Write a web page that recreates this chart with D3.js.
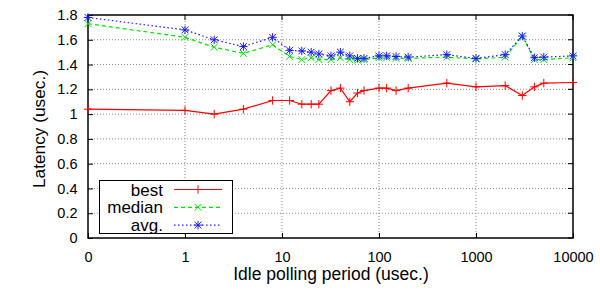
<!DOCTYPE html>
<html>
<head>
<meta charset="utf-8">
<script src="https://cdn.jsdelivr.net/npm/d3@7"></script>
<style>
  body { margin: 0; background: #fff; }
  svg { font-family: "Liberation Sans", Arial, sans-serif; }
</style>
</head>
<body>
<svg id="canvas" width="600" height="295"></svg>
<script>
// data (x = 0 is drawn at 0.1 on the log axis)
let periods = [0, 1, 2, 4, 8, 12, 16, 20, 24, 32, 40, 50, 60, 70, 100, 120, 150, 200, 500, 1000, 2000, 3000, 4000, 5000, 10000];
let best = [1.04, 1.03, 1.00, 1.04, 1.11, 1.11, 1.08, 1.08, 1.08, 1.19, 1.21, 1.10, 1.17, 1.19, 1.21, 1.21, 1.19, 1.21, 1.25, 1.22, 1.23, 1.15, 1.22, 1.25, 1.255];
let median = [1.73, 1.62, 1.54, 1.49, 1.56, 1.465, 1.44, 1.455, 1.44, 1.44, 1.455, 1.44, 1.435, 1.44, 1.455, 1.455, 1.45, 1.45, 1.46, 1.445, 1.46, 1.63, 1.44, 1.44, 1.455];
let avg = [1.78, 1.68, 1.60, 1.545, 1.62, 1.515, 1.51, 1.50, 1.485, 1.47, 1.50, 1.47, 1.45, 1.45, 1.47, 1.47, 1.465, 1.46, 1.48, 1.45, 1.48, 1.63, 1.455, 1.46, 1.47];

let xTicks = [0.1, 1, 10, 100, 1000, 10000];
let xTickLabels = ["0", "1", "10", "100", "1000", "10000"];
let yTicks = [0, 0.2, 0.4, 0.6, 0.8, 1, 1.2, 1.4, 1.6, 1.8];

let series = [
  { name: "best", values: best, color: "#ff0000", dash: null, marker: "plus" },
  { name: "median", values: median, color: "#00e000", dash: "4,3", marker: "cross" },
  { name: "avg.", values: avg, color: "#1a1aff", dash: "1.5,2.5", marker: "star" }
];

let plotLeft = 88, plotRight = 573, plotTop = 15, plotBottom = 238;

let canvas = d3.select("#canvas");

let xScale = d3.scaleLog().domain([0.1, 10000]).range([plotLeft, plotRight]);
let yScale = d3.scaleLinear().domain([0, 1.8]).range([plotBottom, plotTop]);
let xv = (p) => xScale(p === 0 ? 0.1 : p);

// grid
canvas.append("g")
  .selectAll("line")
  .data(yTicks.filter((t) => t > 0 && t < 1.8))
  .enter()
  .append("line")
  .attr("x1", plotLeft).attr("x2", plotRight)
  .attr("y1", (d) => yScale(d)).attr("y2", (d) => yScale(d))
  .attr("stroke", "#888").attr("stroke-width", 1)
  .attr("stroke-dasharray", "1,2");

canvas.append("g")
  .selectAll("line")
  .data(xTicks.filter((t) => t > 0.1 && t < 10000))
  .enter()
  .append("line")
  .attr("x1", (d) => xScale(d)).attr("x2", (d) => xScale(d))
  .attr("y1", plotTop).attr("y2", plotBottom)
  .attr("stroke", "#888").attr("stroke-width", 1)
  .attr("stroke-dasharray", "1,2");

// axes with inward ticks
let xAxis = d3.axisBottom(xScale).tickValues(xTicks)
  .tickFormat((d, i) => xTickLabels[i]).tickSizeInner(-5).tickSizeOuter(0).tickPadding(14);
let gx = canvas.append("g").attr("transform", `translate(0,${plotBottom})`).call(xAxis);

let yAxis = d3.axisLeft(yScale).tickValues(yTicks)
  .tickFormat(d3.format("~g")).tickSizeInner(-5).tickSizeOuter(0).tickPadding(14);
let gy = canvas.append("g").attr("transform", `translate(${plotLeft},0)`).call(yAxis);

[gx, gy].forEach((g) => {
  g.select(".domain").remove();
  g.selectAll("text").attr("font-size", 14.5).attr("fill", "#000")
    .style("font-family", "'Liberation Sans', Arial, sans-serif");
  g.selectAll("line").attr("stroke", "#000");
});
gy.selectAll("text").attr("x", -10.5);
gx.selectAll("text").attr("y", 13.5);

// ticks mirrored on top and right
canvas.append("g").selectAll("line").data(xTicks).enter().append("line")
  .attr("x1", (d) => xScale(d)).attr("x2", (d) => xScale(d))
  .attr("y1", plotTop).attr("y2", plotTop + 5).attr("stroke", "#000");
canvas.append("g").selectAll("line").data(yTicks).enter().append("line")
  .attr("x1", plotRight - 5).attr("x2", plotRight)
  .attr("y1", (d) => yScale(d)).attr("y2", (d) => yScale(d)).attr("stroke", "#000");

// border
canvas.append("rect")
  .attr("x", plotLeft).attr("y", plotTop)
  .attr("width", plotRight - plotLeft).attr("height", plotBottom - plotTop)
  .attr("fill", "none").attr("stroke", "#000").attr("stroke-width", 1.5);

// markers
let drawMarker = (g, kind, x, y, color) => {
  let s = 4.2;
  if (kind === "plus" || kind === "star") {
    g.append("line").attr("x1", x - s).attr("x2", x + s).attr("y1", y).attr("y2", y).attr("stroke", color);
    g.append("line").attr("x1", x).attr("x2", x).attr("y1", y - s).attr("y2", y + s).attr("stroke", color);
  }
  if (kind === "cross" || kind === "star") {
    let c = 3.4;
    g.append("line").attr("x1", x - c).attr("x2", x + c).attr("y1", y - c).attr("y2", y + c).attr("stroke", color);
    g.append("line").attr("x1", x - c).attr("x2", x + c).attr("y1", y + c).attr("y2", y - c).attr("stroke", color);
  }
};

let line = d3.line().x((d) => xv(d[0])).y((d) => yScale(d[1]));

series.forEach((s) => {
  let pts = periods.map((p, i) => [p, s.values[i]]);
  let g = canvas.append("g");
  g.append("path")
    .attr("d", line(pts))
    .attr("fill", "none")
    .attr("stroke", s.color)
    .attr("stroke-width", 1.2)
    .attr("stroke-dasharray", s.dash);
  pts.forEach((d) => drawMarker(g, s.marker, xv(d[0]), yScale(d[1]), s.color));
});

// legend
let legend = canvas.append("g");
legend.append("rect")
  .attr("x", 99.5).attr("y", 180.5).attr("width", 133).attr("height", 53)
  .attr("fill", "#fff").attr("stroke", "#000").attr("stroke-width", 1);
series.forEach((s, i) => {
  let y = 189.5 + i * 17.8;
  legend.append("text")
    .attr("x", 163).attr("y", y + 6)
    .attr("text-anchor", "end").attr("font-size", 17).text(s.name);
  legend.append("line")
    .attr("x1", 174).attr("x2", 222).attr("y1", y).attr("y2", y)
    .attr("stroke", s.color).attr("stroke-width", 1.2)
    .attr("stroke-dasharray", s.dash);
  drawMarker(legend, s.marker, 198, y, s.color);
});

// axis titles
canvas.append("text")
  .attr("x", 331).attr("y", 280)
  .attr("text-anchor", "middle").attr("font-size", 17.5)
  .text("Idle polling period (usec.)");

canvas.append("text")
  .attr("transform", "translate(45,129) rotate(-90)")
  .attr("text-anchor", "middle").attr("font-size", 17.3)
  .text("Latency (usec.)");
</script>
</body>
</html>
